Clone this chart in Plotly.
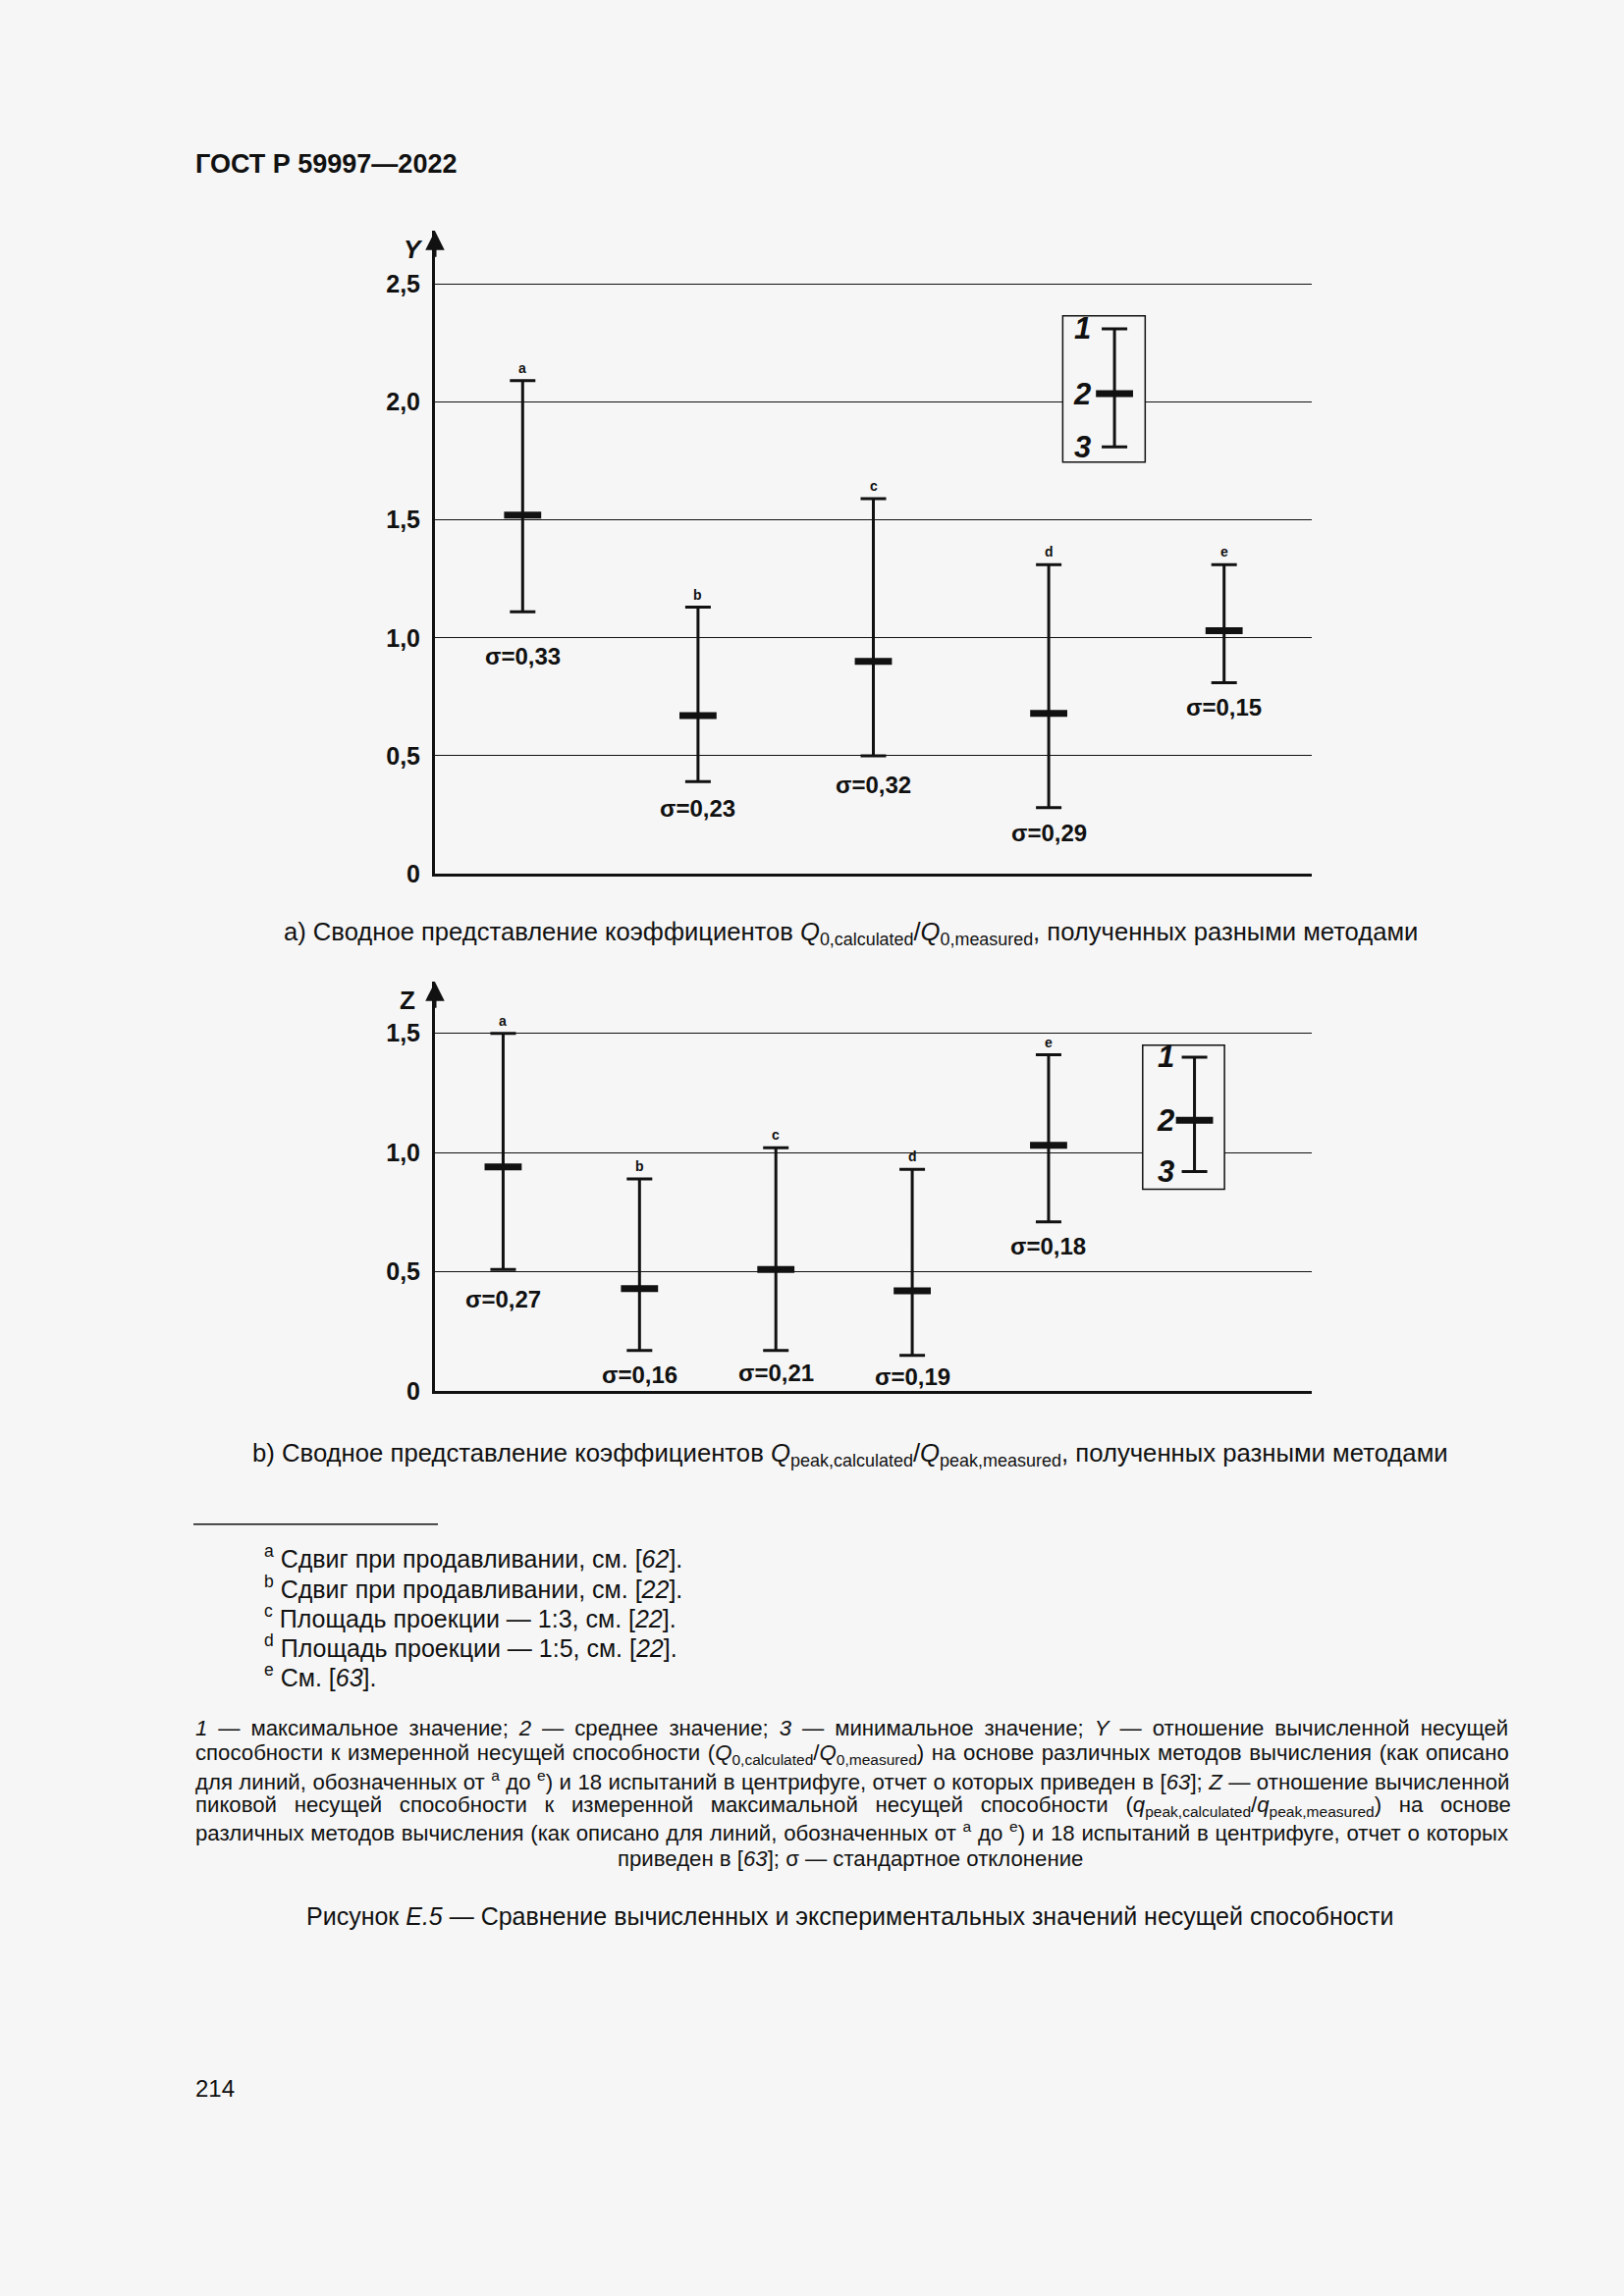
import numpy as np
import plotly.graph_objects as go

# ---------------- data ----------------
cats = ["a", "b", "c", "d", "e"]

# panel a) Q0,calculated / Q0,measured
a_max = [2.09, 1.13, 1.59, 1.31, 1.31]
a_mean = [1.52, 0.67, 0.90, 0.68, 1.03]
a_min = [1.11, 0.39, 0.50, 0.28, 0.81]
a_sigma = [0.33, 0.23, 0.32, 0.29, 0.15]

# panel b) Qpeak,calculated / Qpeak,measured
b_max = [1.50, 0.89, 1.02, 0.93, 1.41]
b_mean = [0.94, 0.43, 0.51, 0.42, 1.03]
b_min = [0.51, 0.17, 0.17, 0.15, 0.71]
b_sigma = [0.27, 0.16, 0.21, 0.19, 0.18]

a_tickvals = [0, 0.5, 1.0, 1.5, 2.0, 2.5]
a_ticktext = ["0", "0,5", "1,0", "1,5", "2,0", "2,5"]
b_tickvals = [0, 0.5, 1.0, 1.5]
b_ticktext = ["0", "0,5", "1,0", "1,5"]

# key sample (1 = max, 2 = mean, 3 = min)
key_a = [2.31, 2.035, 1.81]
key_b = [1.40, 1.135, 0.92]

# ---------------- layout constants ----------------
W, H = 1654, 2339
BG = "#f6f6f6"
FONT = "Liberation Sans, Arial, sans-serif"
INK = "#111111"
K = 1.0072  # vertical calibration


def px(x):
    return x / W


def py(y):
    return 1 - (y * K) / H


fig = go.Figure()


def panel(xa, ya, maxs, means, mins, sigmas, key, key_x, key_lbl_x, key_box, sig_shift):
    xs = np.arange(len(cats)) + 0.5
    mx, mn, me = np.array(maxs), np.array(mins), np.array(means)
    fig.add_trace(go.Scatter(
        x=xs, y=me, xaxis=xa, yaxis=ya, mode="markers", showlegend=False, hoverinfo="skip",
        marker=dict(symbol="line-ew", size=27, color=INK, line=dict(width=7, color=INK)),
        error_y=dict(type="data", symmetric=False, array=mx - me, arrayminus=me - mn,
                     thickness=3, width=13, color=INK),
    ))
    xr = "x" if xa == "x" else "x2"
    yr = "y" if ya == "y" else "y2"
    for i, c in enumerate(cats):
        fig.add_annotation(x=xs[i], y=mx[i], xref=xr, yref=yr, text=c, showarrow=False,
                           yanchor="bottom", yshift=3,
                           font=dict(family=FONT, size=14, color=INK, weight="bold"))
        lbl = ("σ=" + f"{sigmas[i]:.2f}").replace(".", ",")
        fig.add_annotation(x=xs[i], y=mn[i], xref=xr, yref=yr, text=lbl, showarrow=False,
                           yanchor="top", yshift=-sig_shift[i],
                           font=dict(family=FONT, size=24, color=INK, weight="bold"))
    # key box
    fig.add_shape(type="rect", xref=xr, yref=yr, x0=key_box[0], x1=key_box[1], y0=key_box[2], y1=key_box[3],
                  line=dict(color=INK, width=1.5), fillcolor=BG, layer="between")
    fig.add_trace(go.Scatter(
        x=[key_x], y=[key[1]], xaxis=xa, yaxis=ya, mode="markers", showlegend=False, hoverinfo="skip",
        marker=dict(symbol="line-ew", size=27, color=INK, line=dict(width=7, color=INK)),
        error_y=dict(type="data", symmetric=False, array=[key[0] - key[1]], arrayminus=[key[1] - key[2]],
                     thickness=3, width=13, color=INK),
    ))
    for lab, v in zip(["1", "2", "3"], key):
        fig.add_annotation(x=key_lbl_x, y=v, xref=xr, yref=yr, text=lab, showarrow=False,
                           font=dict(family=FONT, size=31, color=INK, weight="bold", style="italic"))


panel("x", "y", a_max, a_mean, a_min, a_sigma, key_a, 3.875, 3.69, (3.58, 4.05, 1.745, 2.365),
      [30, 12, 14, 10, 10])
panel("x2", "y2", b_max, b_mean, b_min, b_sigma, key_b, 5.57, 5.36, (5.19, 5.79, 0.846, 1.45),
      [15, 9, 7, 6, 9])

xdom = [px(443), px(1336)]
axis_common = dict(showline=True, linewidth=3, linecolor=INK, zeroline=False, fixedrange=True)
tickfont = dict(family=FONT, size=25, weight="bold", color=INK)
fig.update_layout(
    width=W, height=H, margin=dict(l=0, r=0, t=0, b=0),
    paper_bgcolor=BG, plot_bgcolor=BG, showlegend=False,
    font=dict(family=FONT, color=INK),
    xaxis=dict(domain=xdom, range=[0, 5], anchor="y", showgrid=False, showticklabels=False, ticks="",
               **axis_common),
    yaxis=dict(domain=[py(889), py(235)], range=[0, 2.725], anchor="x", tickvals=a_tickvals,
               ticktext=a_ticktext, showgrid=True, gridcolor=INK, gridwidth=1, ticks="",
               ticklabelstandoff=7, tickfont=tickfont, **axis_common),
    xaxis2=dict(domain=xdom, range=[0, 6.43], anchor="y2", showgrid=False, showticklabels=False, ticks="",
                **axis_common),
    yaxis2=dict(domain=[py(1415.5), py(999)], range=[0, 1.716], anchor="x2", tickvals=b_tickvals,
                ticktext=b_ticktext, showgrid=True, gridcolor=INK, gridwidth=1, ticks="",
                ticklabelstandoff=7, tickfont=tickfont, **axis_common),
)

# axis arrows and names
for xr, yr, top, name, style, xs_ in [("x", "y", 2.725, "Y", "italic", -10), ("x2", "y2", 1.716, "Z", "normal", -18)]:
    fig.add_annotation(x=0, y=top, xref=xr, yref=yr, ax=0, ay=28, axref="pixel", ayref="pixel",
                       text="", showarrow=True, arrowhead=2, arrowsize=1.3, arrowwidth=3, arrowcolor=INK,
                       standoff=0)
    fig.add_annotation(x=0, y=top, xref=xr, yref=yr, text=name, showarrow=False, xanchor="right",
                       yanchor="top", xshift=xs_, yshift=-2,
                       font=dict(family=FONT, size=26, color=INK, weight="bold", style=style))


def T(text, x, y, size, anchor="left", bold=False, wsp=None):
    if wsp:
        text = f"<span style='word-spacing:{wsp}px'>{text}</span>"
    fig.add_annotation(x=px(x), y=py(y), xref="paper", yref="paper", text=text, showarrow=False,
                       xanchor=anchor, yanchor="middle", align=anchor,
                       font=dict(family=FONT, size=size, color=INK, weight="bold" if bold else "normal"))


T("ГОСТ Р 59997—2022", 197, 167, 27, bold=True)
T("а) Сводное представление коэффициентов <i>Q</i><sub>0,calculated</sub>/<i>Q</i><sub>0,measured</sub>, "
  "полученных разными методами", 866, 950, 25.6, anchor="center")
T("b) Сводное представление коэффициентов <i>Q</i><sub>peak,calculated</sub>/<i>Q</i><sub>peak,measured</sub>, "
  "полученных разными методами", 866, 1480, 25.7, anchor="center")

fig.add_shape(type="line", xref="paper", yref="paper", x0=px(197), x1=px(446), y0=py(1551), y1=py(1551),
              line=dict(color=INK, width=1.5))

notes = [
    "<sup>a</sup> Сдвиг при продавливании, см. [<i>62</i>].",
    "<sup>b</sup> Сдвиг при продавливании, см. [<i>22</i>].",
    "<sup>c</sup> Площадь проекции — 1:3, см. [<i>22</i>].",
    "<sup>d</sup> Площадь проекции — 1:5, см. [<i>22</i>].",
    "<sup>e</sup> См. [<i>63</i>].",
]
for t, y in zip(notes, [1584, 1615, 1645, 1675, 1705]):
    T(t, 267, y, 25)

key_lines = [
    "<i>1</i> — максимальное значение; <i>2</i> — среднее значение; <i>3</i> — минимальное значение; "
    "<i>Y</i> — отношение вычисленной несущей",
    "способности к измеренной несущей способности (<i>Q</i><sub>0,calculated</sub>/<i>Q</i><sub>0,measured</sub>) "
    "на основе различных методов вычисления (как описано",
    "для линий, обозначенных от <sup>a</sup> до <sup>e</sup>) и 18 испытаний в центрифуге, отчет о которых "
    "приведен в [<i>63</i>]; <i>Z</i> — отношение вычисленной",
    "пиковой несущей способности к измеренной максимальной несущей способности "
    "(<i>q</i><sub>peak,calculated</sub>/<i>q</i><sub>peak,measured</sub>) на основе",
    "различных методов вычисления (как описано для линий, обозначенных от <sup>a</sup> до <sup>e</sup>) "
    "и 18 испытаний в центрифуге, отчет о которых",
]
key_wsp = [4.8, 1.5, 0.3, 11.5, 0.6]
for t, y, w in zip(key_lines, [1758, 1785, 1812, 1838, 1864], key_wsp):
    T(t, 197, y, 22.2, wsp=w)
T("приведен в [<i>63</i>]; σ — стандартное отклонение", 866, 1891, 22.2, anchor="center")

T("Рисунок <i>E.5</i> — Сравнение вычисленных и экспериментальных значений несущей способности",
  866, 1950, 25, anchor="center")
T("214", 197, 2125, 24)

fig.write_html("out.html", config={"displayModeBar": False},
               post_script="document.body.style.margin='0';document.body.style.background='#f6f6f6';")
